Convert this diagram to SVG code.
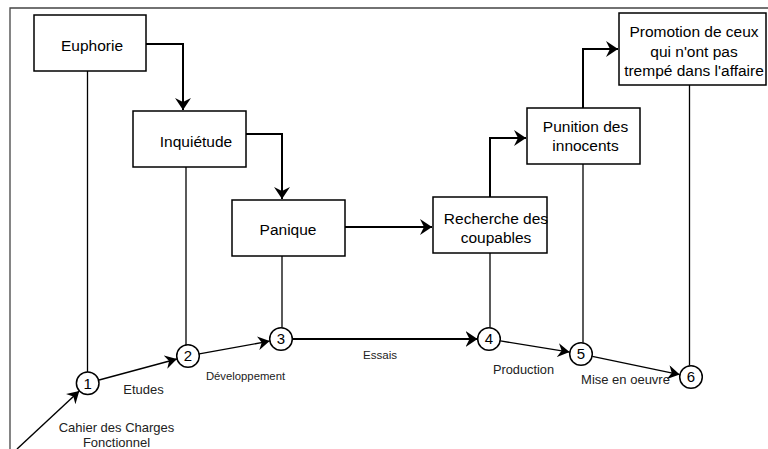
<svg xmlns="http://www.w3.org/2000/svg" width="768" height="449" viewBox="0 0 768 449">
<style>
.box{fill:#fff;stroke:#000;stroke-width:1.5}
.bt{font-family:"Liberation Sans",Arial,sans-serif;font-size:15.5px;fill:#000;text-anchor:middle}
.lb{font-family:"Liberation Sans",Arial,sans-serif;fill:#222;text-anchor:middle}
.nd{fill:#fff;stroke:#000;stroke-width:1.5}
.nt{font-family:"Liberation Sans",Arial,sans-serif;font-size:15px;fill:#000;text-anchor:middle}
.thick{fill:none;stroke:#000;stroke-width:2}
.thin{fill:none;stroke:#000;stroke-width:1.3}
.flow{fill:none;stroke:#000;stroke-width:1.4}
</style>
<defs>
<marker id="big" markerUnits="userSpaceOnUse" markerWidth="16" markerHeight="18" refX="12" refY="8" orient="auto" viewBox="0 0 16 16">
<path d="M0,0 L12,8 L0,16 L4,8 Z" fill="#000"/>
</marker>
<marker id="sm" markerUnits="userSpaceOnUse" markerWidth="14" markerHeight="14" refX="11" refY="6.5" orient="auto" viewBox="0 0 13 13">
<path d="M0,0 L11,6.5 L0,13 L3.5,6.5 Z" fill="#000"/>
</marker>
</defs>
<rect width="768" height="449" fill="#fff"/>
<path d="M10,449 V8 H768" fill="none" stroke="#444" stroke-width="1.3"/>
<g id="connectors">
<path class="thick" d="M146,44 H183 V110" marker-end="url(#big)"/>
<path class="thick" d="M246,134 H282 V199" marker-end="url(#big)"/>
<path class="thick" d="M345,227 H432" marker-end="url(#big)"/>
<path class="thick" d="M490,197 V138 H526" marker-end="url(#big)"/>
<path class="thick" d="M583,108 V49 H618" marker-end="url(#big)"/>
<path class="thin" d="M87.5,71 V372"/>
<path class="thin" d="M186,167 V345"/>
<path class="thin" d="M282,256 V327.5"/>
<path class="thin" d="M490,253 V327.5"/>
<path class="thin" d="M583,164 V342.5"/>
<path class="thin" d="M689.5,85 V365.5"/>
<path class="flow" d="M17,449 L79.3,391.1" marker-end="url(#sm)"/>
<path class="flow" d="M99.1,380 L176.9,359" marker-end="url(#sm)"/>
<path class="flow" d="M199.3,353.9 L269.7,341.1" marker-end="url(#sm)"/>
<path class="thick" d="M292.5,339 H477.5" marker-end="url(#big)"/>
<path class="flow" d="M500.4,340.9 L569.6,352.1" marker-end="url(#sm)"/>
<path class="flow" d="M592.3,356.4 L679.7,374.6" marker-end="url(#sm)"/>
<text class="lb" x="116.5" y="431.5" font-size="13px">Cahier des Charges</text>
<text class="lb" x="116.5" y="447" font-size="13px">Fonctionnel</text>
<text class="lb" x="143.5" y="393.5" font-size="13px">Etudes</text>
<text class="lb" x="245.5" y="380" font-size="11.3px">Développement</text>
<text class="lb" x="380" y="359" font-size="11.6px">Essais</text>
<text class="lb" x="523.5" y="373.5" font-size="12.8px">Production</text>
<text class="lb" x="625.5" y="383.5" font-size="13px">Mise en oeuvre</text>
</g>
<g id="euphorie"><rect class="box" x="34" y="15" width="112" height="56"/><text class="bt" x="92" y="50.5">Euphorie</text></g>
<g id="inquietude"><rect class="box" x="133" y="111" width="113" height="56"/><text class="bt" x="196" y="146.5">Inquiétude</text></g>
<g id="panique"><rect class="box" x="232" y="200" width="113" height="56"/><text class="bt" x="288" y="235">Panique</text></g>
<g id="recherche"><rect class="box" x="433" y="197" width="114" height="56"/><text class="bt" x="496" y="224">Recherche des</text><text class="bt" x="496" y="242.5">coupables</text></g>
<g id="punition"><rect class="box" x="527" y="108" width="113" height="56"/><text class="bt" x="585.5" y="131.5">Punition des</text><text class="bt" x="585.5" y="150.5">innocents</text></g>
<g id="promotion"><rect class="box" x="619" y="13" width="147" height="72"/><text class="bt" x="694" y="37.3">Promotion de ceux</text><text class="bt" x="694" y="56.8">qui n'ont pas</text><text class="bt" x="694" y="76.3">trempé dans l'affaire</text></g>
<g id="n1"><circle class="nd" cx="87.7" cy="383.3" r="11.3"/><text class="nt" x="87.7" y="388.6">1</text></g>
<g id="n2"><circle class="nd" cx="188" cy="356" r="11.3"/><text class="nt" x="188" y="361.3">2</text></g>
<g id="n3"><circle class="nd" cx="281" cy="339" r="11.3"/><text class="nt" x="281" y="344.3">3</text></g>
<g id="n4"><circle class="nd" cx="489" cy="339" r="11.3"/><text class="nt" x="489" y="344.3">4</text></g>
<g id="n5"><circle class="nd" cx="581" cy="354" r="11.3"/><text class="nt" x="581" y="359.3">5</text></g>
<g id="n6"><circle class="nd" cx="691" cy="377" r="11.3"/><text class="nt" x="691" y="382.3">6</text></g>
</svg>
